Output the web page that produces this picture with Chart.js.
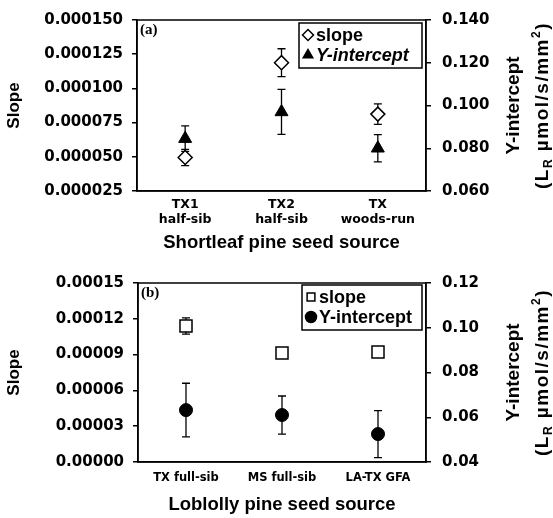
<!DOCTYPE html>
<html lang="en">
<head>
<meta charset="UTF-8">
<title>Slope and Y-intercept by seed source</title>
<style>
  body { margin: 0; padding: 0; background: #fff; }
  .panel { position: absolute; left: 0; width: 553px; }
  #panelA { top: 0; height: 256px; }
  #panelB { top: 256px; height: 262px; }
</style>
</head>
<body>
<div class="panel" id="panelA"><canvas id="chartA"></canvas></div>
<div class="panel" id="panelB"><canvas id="chartB"></canvas></div>
<script src="https://cdn.jsdelivr.net/npm/chart.js"></script>
<script>
  // (a) shortleaf pine
  const sourcesA = [['TX1', 'half-sib'], ['TX2', 'half-sib'], ['TX', 'woods-run']];
  const slopeA = [0.0000495, 0.0001188, 0.0000812];
  const slopeErrA = [0.000006, 0.0000102, 0.0000075];
  const interceptA = [0.0845, 0.0970, 0.0800];
  const interceptErrA = [0.0060, 0.0105, 0.0064];
  const slopeTicksA = ['0.000025', '0.000050', '0.000075', '0.000100', '0.000125', '0.000150'];
  const interceptTicksA = ['0.060', '0.080', '0.100', '0.120', '0.140'];

  // (b) loblolly pine
  const sourcesB = ['TX full-sib', 'MS full-sib', 'LA-TX GFA'];
  const slopeB = [0.000114, 0.0000913, 0.0000922];
  const slopeErrB = [0.0000068, 0.0000025, 0.000003];
  const interceptB = [0.0632, 0.0610, 0.0525];
  const interceptErrB = [0.0120, 0.0085, 0.0105];
  const slopeTicksB = ['0.00000', '0.00003', '0.00006', '0.00009', '0.00012', '0.00015'];
  const interceptTicksB = ['0.04', '0.06', '0.08', '0.10', '0.12'];

  const tickFont = { family: 'DejaVu Sans', weight: 'bold', size: 15 };
  const titleFamily = 'Liberation Sans';

  // vertical error bars, drawn under the markers
  const errorBars = {
    id: 'errorBars',
    beforeDatasetsDraw(chart) {
      const ctx = chart.ctx;
      ctx.save();
      ctx.strokeStyle = '#000';
      ctx.lineWidth = 1.3;
      chart.data.datasets.forEach((ds, i) => {
        const yScale = chart.scales[ds.yAxisID];
        chart.getDatasetMeta(i).data.forEach((pt, j) => {
          const top = yScale.getPixelForValue(ds.data[j] + ds.errors[j]);
          const bot = yScale.getPixelForValue(ds.data[j] - ds.errors[j]);
          ctx.beginPath();
          ctx.moveTo(pt.x, top); ctx.lineTo(pt.x, bot);
          ctx.moveTo(pt.x - 4, top); ctx.lineTo(pt.x + 4, top);
          ctx.moveTo(pt.x - 4, bot); ctx.lineTo(pt.x + 4, bot);
          ctx.stroke();
        });
      });
      ctx.restore();
    }
  };

  // frame, panel tag, boxed legend and the right axis title
  const panelDecor = {
    id: 'panelDecor',
    afterDraw(chart, args, opts) {
      const ctx = chart.ctx;
      const { left, right, top, bottom } = chart.chartArea;
      ctx.save();
      ctx.strokeStyle = '#000';
      ctx.lineWidth = 1.5;
      ctx.strokeRect(left, top, right - left, bottom - top);

      ctx.fillStyle = '#000';
      ctx.font = 'bold 15px "Liberation Serif"';
      ctx.textBaseline = 'middle';
      ctx.fillText(opts.tag, left + 3, top + 10);

      // legend
      const bx = right - 4 - opts.legendWidth;
      const by = top + opts.legendTop;
      ctx.fillStyle = '#fff';
      ctx.fillRect(bx, by, opts.legendWidth, 45);
      ctx.strokeRect(bx, by, opts.legendWidth, 45);
      chart.data.datasets.forEach((ds, i) => {
        const cy = by + 12 + i * 20;
        ctx.fillStyle = ds.pointBackgroundColor;
        ctx.strokeStyle = '#000';
        ctx.lineWidth = 1.5;
        Chart.helpers.drawPoint(ctx, { pointStyle: ds.pointStyle, radius: 5.5, borderWidth: 1.5, rotation: 0 }, bx + 9, cy);
        ctx.fillStyle = '#000';
        const italic = opts.italicSecond && i === 1 ? 'italic ' : '';
        ctx.font = italic + 'bold 18px "' + titleFamily + '"';
        ctx.fillText(ds.label, bx + 17, cy + 1);
      });

      // right title, read bottom to top
      const cy = (top + bottom) / 2 + opts.titleShift;
      const big = 'bold 19px "' + titleFamily + '"';
      const small = 'bold 12px "' + titleFamily + '"';
      ctx.fillStyle = '#000';
      ctx.textBaseline = 'alphabetic';
      ctx.save();
      ctx.translate(opts.titleX1, cy);
      ctx.rotate(-Math.PI / 2);
      ctx.font = big;
      ctx.textAlign = 'center';
      ctx.fillText('Y-intercept', 0, 7);
      ctx.restore();

      const runs = [
        { t: '(L', f: big, dy: 0 },
        { t: 'R', f: small, dy: 4 },
        { t: ' \u00b5mol/s/mm', f: big, dy: 0 },
        { t: '2', f: small, dy: -8 },
        { t: ')', f: big, dy: 0 }
      ];
      ctx.save();
      ctx.letterSpacing = '1.5px';
      let total = 0;
      runs.forEach(r => { ctx.font = r.f; r.w = ctx.measureText(r.t).width; total += r.w; });
      ctx.translate(opts.titleX2, cy);
      ctx.rotate(-Math.PI / 2);
      let x = -total / 2;
      runs.forEach(r => { ctx.font = r.f; ctx.fillText(r.t, x, 7 + r.dy); x += r.w; });
      ctx.restore();
      ctx.restore();
    }
  };

  function buildChart(id, p) {
    return new Chart(document.getElementById(id), {
      type: 'line',
      data: {
        labels: p.labels,
        datasets: [{
          label: 'slope',
          data: p.slope,
          errors: p.slopeErr,
          yAxisID: 'y',
          showLine: false,
          pointStyle: p.slopeStyle,
          pointRadius: p.slopeRadius,
          pointBackgroundColor: '#fff',
          pointBorderColor: '#000',
          pointBorderWidth: 1.5
        }, {
          label: 'Y-intercept',
          data: p.intercept,
          errors: p.interceptErr,
          yAxisID: 'y1',
          showLine: false,
          pointStyle: p.interceptStyle,
          pointRadius: p.interceptRadius,
          pointBackgroundColor: '#000',
          pointBorderColor: '#000',
          pointBorderWidth: 1
        }]
      },
      options: {
        responsive: true,
        maintainAspectRatio: false,
        animation: false,
        layout: { padding: { top: p.top, left: 0, right: 0, bottom: 0 } },
        plugins: {
          legend: { display: false },
          tooltip: { enabled: false },
          panelDecor: p.decor
        },
        scales: {
          x: {
            offset: true,
            grid: { display: false, drawTicks: false, tickLength: 0 },
            border: { color: '#000', width: 1.5 },
            ticks: { color: '#000', font: p.xFont, padding: p.xPad, maxRotation: 0, autoSkip: false },
            title: {
              display: true, text: p.xTitle, color: '#000',
              font: { family: titleFamily, weight: 'bold', size: 18.5 },
              padding: { top: 0, bottom: 2 }
            },
            afterFit: s => { s.height = p.xHeight; }
          },
          y: {
            position: 'left',
            min: parseFloat(p.slopeTicks[0]),
            max: parseFloat(p.slopeTicks[p.slopeTicks.length - 1]),
            afterBuildTicks: s => { s.ticks = p.slopeTicks.map(v => ({ value: parseFloat(v) })); },
            ticks: { color: '#000', font: tickFont, padding: 9, callback: (v, i) => p.slopeTicks[i] },
            grid: { drawOnChartArea: false, tickLength: 5, color: '#000', lineWidth: 1.5 },
            border: { color: '#000', width: 1.5 },
            title: {
              display: true, text: 'Slope', color: '#000',
              font: { family: titleFamily, weight: 'bold', size: 17 },
              padding: { top: 4, bottom: 0 }
            },
            afterFit: s => { s.width = p.leftWidth; }
          },
          y1: {
            position: 'right',
            min: parseFloat(p.interceptTicks[0]),
            max: parseFloat(p.interceptTicks[p.interceptTicks.length - 1]),
            afterBuildTicks: s => { s.ticks = p.interceptTicks.map(v => ({ value: parseFloat(v) })); },
            ticks: { color: '#000', font: tickFont, padding: 11, callback: (v, i) => p.interceptTicks[i] },
            grid: { drawOnChartArea: false, tickLength: 5, color: '#000', lineWidth: 1.5 },
            border: { color: '#000', width: 1.5 },
            afterFit: s => { s.width = 127; }
          }
        }
      },
      plugins: [errorBars, panelDecor]
    });
  }

  buildChart('chartA', {
    labels: sourcesA,
    slope: slopeA, slopeErr: slopeErrA,
    intercept: interceptA, interceptErr: interceptErrA,
    slopeTicks: slopeTicksA, interceptTicks: interceptTicksA,
    slopeStyle: 'rectRot', slopeRadius: 7, interceptStyle: 'triangle', interceptRadius: 7.5,
    top: 15, leftWidth: 137, xHeight: 65, xPad: 6,
    xFont: { family: 'DejaVu Sans', weight: 'bold', size: 12.5 },
    xTitle: 'Shortleaf pine seed source',
    decor: { tag: '(a)', legendWidth: 123, legendTop: 3, italicSecond: true, titleShift: 0, titleX1: 512, titleX2: 541 }
  });

  buildChart('chartB', {
    labels: sourcesB,
    slope: slopeB, slopeErr: slopeErrB,
    intercept: interceptB, interceptErr: interceptErrB,
    slopeTicks: slopeTicksB, interceptTicks: interceptTicksB,
    slopeStyle: 'rect', slopeRadius: 8.5, interceptStyle: 'circle', interceptRadius: 6.5,
    top: 27, leftWidth: 138, xHeight: 56, xPad: 9,
    xFont: { family: 'DejaVu Sans', weight: 'bold', size: 11.5 },
    xTitle: 'Loblolly pine seed source',
    decor: { tag: '(b)', legendWidth: 120, legendTop: 2, italicSecond: false, titleShift: 0, titleX1: 512, titleX2: 541 }
  });
</script>
</body>
</html>
